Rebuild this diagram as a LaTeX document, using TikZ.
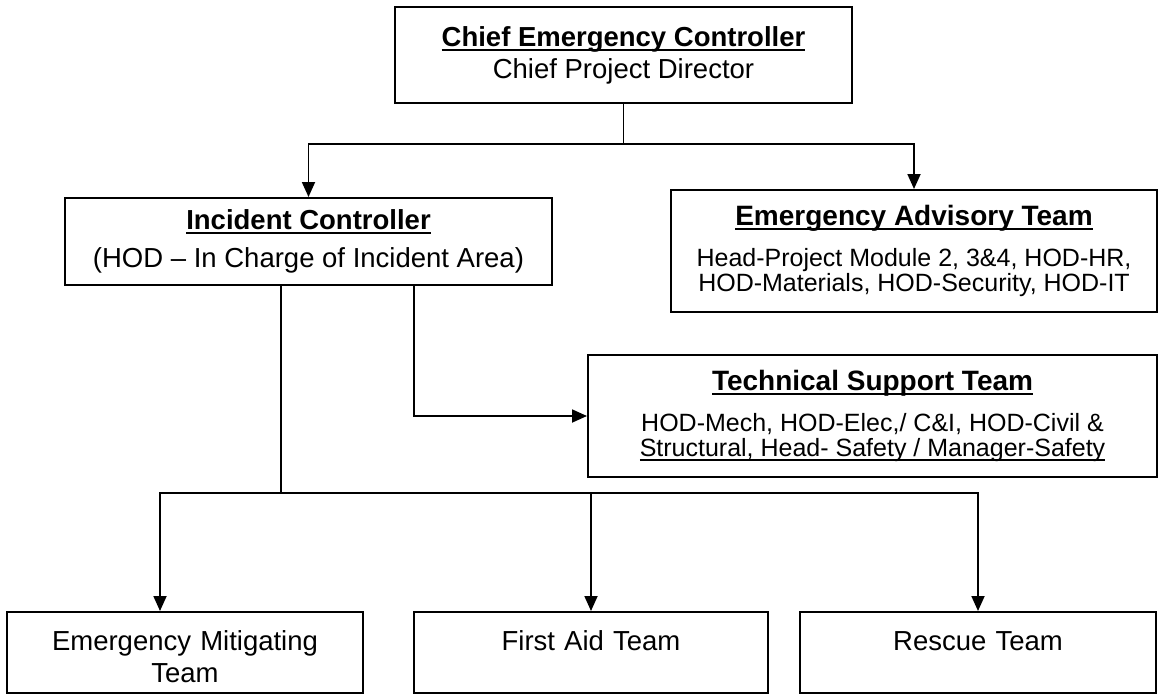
\documentclass[tikz,border=0pt]{standalone}
\usepackage{fontspec}
\setmainfont{Liberation Sans}
\usetikzlibrary{arrows.meta}
\newcommand{\undl}[1]{\setbox0\hbox{#1}\rlap{\rule[-4.5pt]{\wd0}{2pt}}\box0}
\newcommand{\bodysize}{\fontsize{27.5}{32}\selectfont}
\newcommand{\smallsize}{\fontsize{25}{25}\selectfont}
\newcommand{\headsize}{\fontsize{28}{28}\selectfont}

\begin{document}
\begin{tikzpicture}[x=1pt,y=1pt,
  box/.style={draw,line width=2pt,inner sep=0pt,align=center},
  team/.style={box,anchor=north,minimum width=#1,text width=#1,text height=38pt,text depth=43pt},
  link/.style={line width=1.8pt},
  arr/.style={link,-{Triangle[length=15pt,width=13pt]}}]
\useasboundingbox (0,0) rectangle (1159,-694);
\node[box,minimum width=457,minimum height=96,font=\bodysize] (cec) at (623.5,-55) {\undl{\textbf{Chief Emergency Controller}}\\Chief Project Director};
\node[box,minimum width=487,minimum height=87,font=\bodysize] (inc) at (308.5,-241.5) {\undl{\textbf{Incident Controller}}\\[6pt](HOD -- In Charge of Incident Area)};
\node[box,minimum width=486,minimum height=122,font=\smallsize] (adv) at (914,-251) {{\headsize\undl{\textbf{Emergency Advisory Team}}}\\[16pt]Head-Project Module 2, 3\&4, HOD-HR,\\HOD-Materials, HOD-Security, HOD-IT};
\node[box,minimum width=569,minimum height=122,font=\smallsize] (tech) at (872.5,-416) {{\headsize\undl{\textbf{Technical Support Team}}}\\[16pt]HOD-Mech, HOD-Elec,/ C\&I, HOD-Civil \&\\\undl{Structural, Head- Safety / Manager-Safety}};
\node[team=356pt,font=\bodysize] (emt) at (185,-611) {Emergency Mitigating\\Team};
\node[team=354pt,font=\bodysize] (fat) at (591,-611) {First Aid Team};
\node[team=356pt,font=\bodysize] (rt) at (978,-611) {Rescue Team};
\coordinate (split) at ([yshift=-40pt]cec.south);
\coordinate (fork) at (281,-493);
\draw[link] (cec.south) -- (split);
\draw[arr] (split) -| (inc);
\draw[arr] (split) -| (adv);
\draw[arr] ([xshift=105.5pt]inc.south) |- (tech);
\draw[link] (inc.south -| fork) -- (fork);
\draw[arr] (fork) -| ([xshift=-25pt]emt.north);
\draw[arr] (fork) -| (fat);
\draw[arr] (fork) -| (rt);
\end{tikzpicture}
\end{document}
